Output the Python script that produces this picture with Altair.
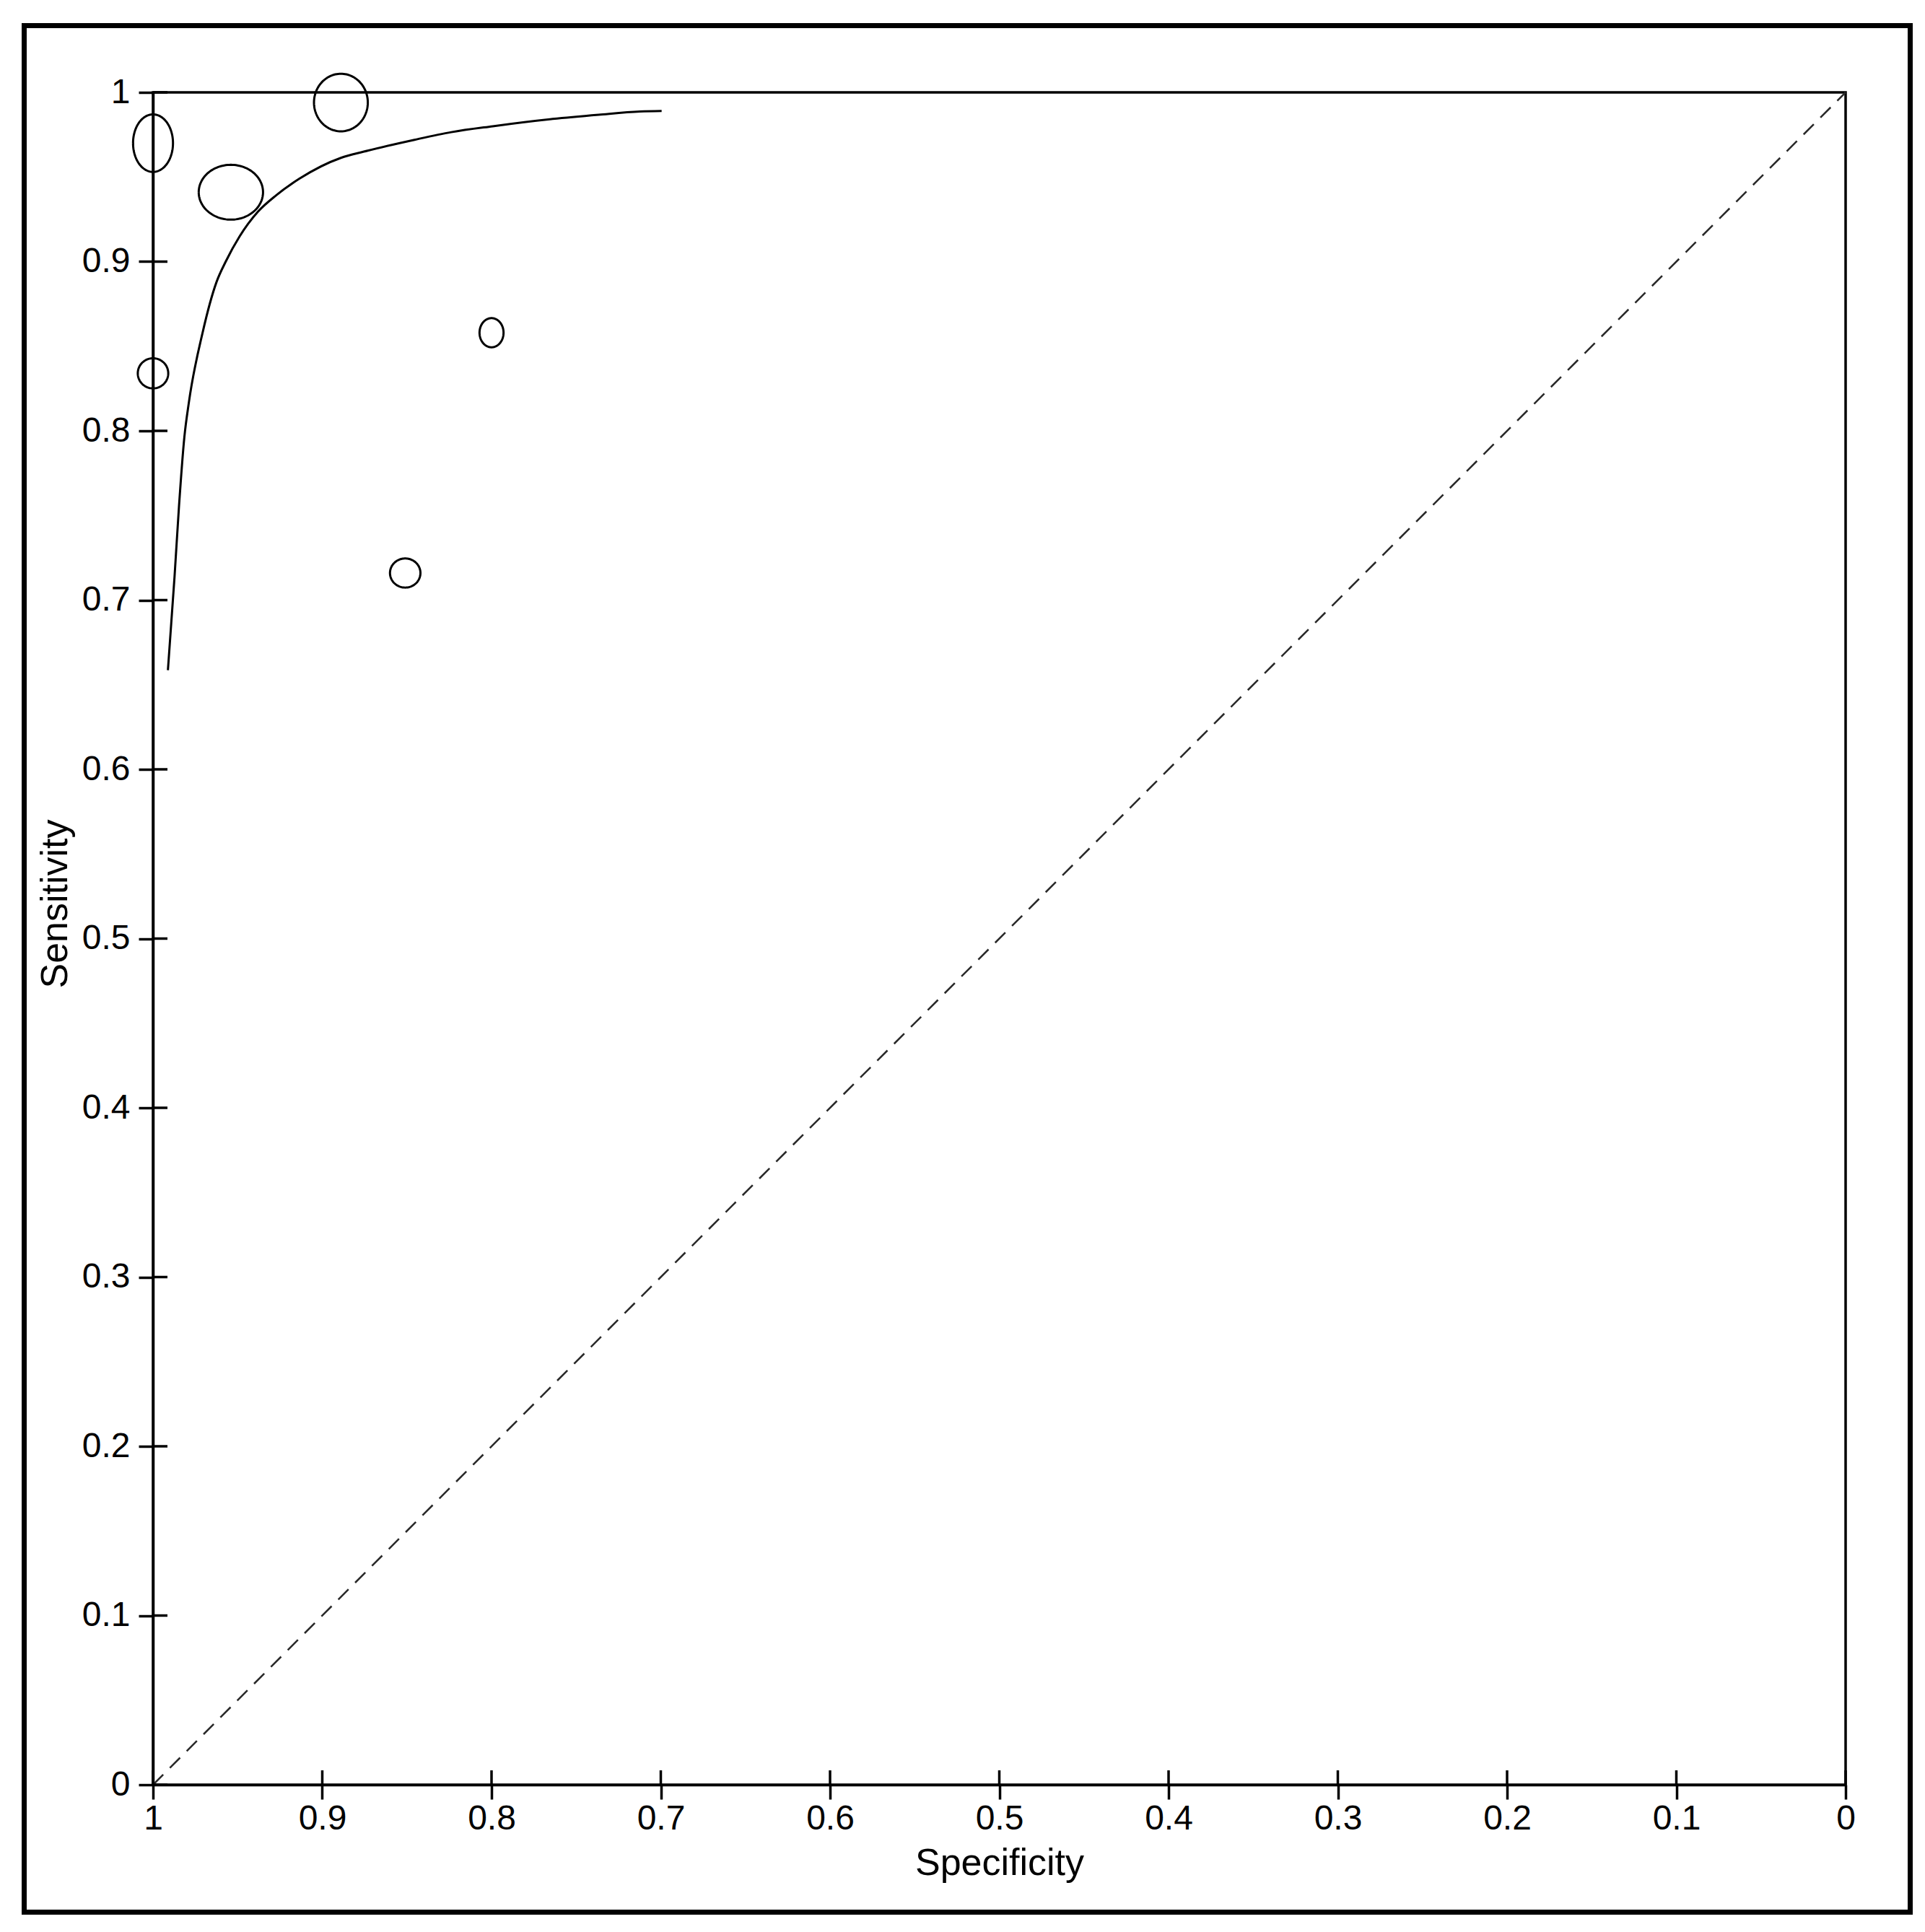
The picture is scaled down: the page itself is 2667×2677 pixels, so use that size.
import altair as alt
import numpy as np
import pandas as pd

# ---- data ----
study_id = ["S1", "S2", "S3", "S4", "S5", "S6"]
study_spec = [1.000, 0.889, 0.954, 1.000, 0.800, 0.851]
study_sens = [0.970, 0.994, 0.941, 0.834, 0.858, 0.716]
study_rx = [0.0118, 0.0159, 0.0190, 0.0090, 0.0071, 0.0090]   # half width (specificity units)
study_ry = [0.0170, 0.0170, 0.0162, 0.0089, 0.0086, 0.0086]   # half height (sensitivity units)

sroc_spec = [0.6995, 0.7123, 0.7367, 0.7639, 0.7993, 0.8238, 0.8455, 0.8754, 0.8890,
             0.9135, 0.9271, 0.9380, 0.9489, 0.9570, 0.9625, 0.9706, 0.9788, 0.9815,
             0.9846, 0.9873, 0.9912]
sroc_sens = [0.9890, 0.9887, 0.9868, 0.9843, 0.9800, 0.9765, 0.9720, 0.9650, 0.9613,
             0.9490, 0.9393, 0.9295, 0.9148, 0.9001, 0.8879, 0.8585, 0.8169, 0.7961,
             0.7562, 0.7136, 0.6586]

diag_spec = [1.0, 0.0]
diag_sens = [0.0, 1.0]

tick_values = [0.0, 0.1, 0.2, 0.3, 0.4, 0.5, 0.6, 0.7, 0.8, 0.9, 1.0]

# ---- tables ----
W = 2345
H = 2345
FONT = "Liberation Sans"

sroc_df = pd.DataFrame({"spec": sroc_spec, "sens": sroc_sens, "i": range(len(sroc_spec))})
diag_df = pd.DataFrame({"spec": diag_spec, "sens": diag_sens, "i": [0, 1]})

theta = np.linspace(0, 2 * np.pi, 121)
rows = []
for sid, cx, cy, rx, ry in zip(study_id, study_spec, study_sens, study_rx, study_ry):
    for k, t in enumerate(theta):
        rows.append({"study": sid, "k": k,
                     "spec": cx + rx * np.cos(t), "sens": cy + ry * np.sin(t)})
ell_df = pd.DataFrame(rows)
ticks_df = pd.DataFrame({"v": tick_values})
frame_df = pd.DataFrame({"f": [0]})

xs = alt.Scale(domain=[0, 1], reverse=True, nice=False, zero=False)
ys = alt.Scale(domain=[0, 1], nice=False, zero=False)

x_axis = alt.Axis(values=tick_values, format="~g", grid=False,
                  labelFont=FONT, labelFontSize=48, labelColor="black", labelPadding=3,
                  labelFlush=False, labelOverlap=False,
                  tickSize=20, tickWidth=3.5, tickColor="black",
                  domainColor="black", domainWidth=3.5,
                  title="Specificity", titleFont=FONT, titleFontSize=52,
                  titleFontWeight="normal", titleColor="black",
                  titleX=W / 2, titleY=124, titleBaseline="alphabetic", titleAlign="center")
y_axis = alt.Axis(values=tick_values, format="~g", grid=False,
                  labelFont=FONT, labelFontSize=48, labelColor="black", labelPadding=12,
                  labelFlush=False, labelOverlap=False,
                  tickSize=20, tickWidth=3.5, tickColor="black",
                  domainColor="black", domainWidth=3.5,
                  title="Sensitivity", titleFont=FONT, titleFontSize=52,
                  titleFontWeight="normal", titleColor="black",
                  titleAngle=270, titleX=-120, titleY=1124,
                  titleBaseline="alphabetic", titleAlign="center")

X = alt.X("spec:Q", scale=xs, axis=x_axis)
Y = alt.Y("sens:Q", scale=ys, axis=y_axis)

frame = alt.Chart(frame_df).mark_rect(filled=False, stroke="black", strokeWidth=7).encode(
    x=alt.value(-178.5), x2=alt.value(2434.5), y=alt.value(-92.5), y2=alt.value(2521.5))

diag = alt.Chart(diag_df).mark_line(color="#2a2a2a", strokeWidth=2.6,
                                    strokeDash=[20, 13]).encode(
    x=X, y=Y, order="i:Q")

sroc = alt.Chart(sroc_df).mark_line(color="black", strokeWidth=3, interpolate="monotone").encode(
    x=X, y=Y, order="i:Q")

ellipses = alt.Chart(ell_df).mark_line(color="black", strokeWidth=3).encode(
    x=X, y=Y, detail="study:N", order="k:Q")

ytick_in = alt.Chart(ticks_df).mark_rule(color="black", strokeWidth=3.5).encode(
    y=alt.Y("v:Q", scale=ys, axis=y_axis), x=alt.value(0), x2=alt.value(20))
xtick_in = alt.Chart(ticks_df).mark_rule(color="black", strokeWidth=3.5).encode(
    x=alt.X("v:Q", scale=xs, axis=x_axis), y=alt.value(H - 20), y2=alt.value(H))

chart = alt.layer(frame, diag, sroc, ellipses, ytick_in, xtick_in).properties(
    width=W, height=H,
    autosize=alt.AutoSizeParams(type="none"),
    padding={"left": 204, "top": 120, "right": 100, "bottom": 195},
    background="white",
).configure_view(stroke="black", strokeWidth=3.5)

chart.save("out.html", embed_options={"renderer": "svg", "actions": False})
